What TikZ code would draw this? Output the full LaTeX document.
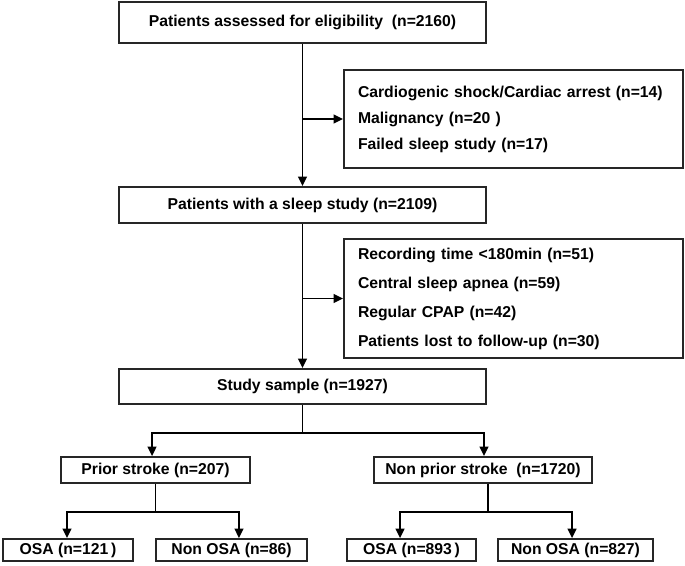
\documentclass[tikz,border=0pt]{standalone}
\usepackage{fontspec}
\setmainfont{Liberation Sans}
\usetikzlibrary{arrows.meta}
\begin{document}
\begin{tikzpicture}[x=0.75pt,y=-0.75pt,
  box/.style={draw=black!85,line width=1.4pt,inner sep=0pt,minimum height=#1,
     font=\fontsize{11.8}{14}\selectfont\bfseries},
  exbox/.style={draw=black!85,line width=1.4pt,inner xsep=10.5pt,inner ysep=0pt,
     minimum height=#1,text width=233.25pt,align=left},
  arr/.style={line width=1.3pt,-{Triangle[length=7pt,width=6.5pt]}},
  ln/.style={line width=1.3pt}]
\useasboundingbox (0,0) rectangle (685,565);
% main column
\node[box=30.75pt,minimum width=275.25pt] (b1) at (302.5,22.5) {Patients assessed for eligibility\ \ (n=2160)};
\node[box=27pt,minimum width=275.25pt] (b2) at (302.5,205) {Patients with a sleep study (n=2109)};
\node[box=26.25pt,minimum width=275.25pt] (b3) at (302.5,386.5) {Study sample (n=1927)};
% exclusion boxes
\node[exbox=73.5pt,font=\fontsize{11.8}{19.5}\selectfont\bfseries] (e1) at (513.5,119)
  {Cardiogenic shock/Cardiac arrest (n=14)\\Malignancy (n=20 )\\Failed sleep study (n=17)};
\node[exbox=89.25pt,font=\fontsize{11.8}{21.75}\selectfont\bfseries] (e2) at (513.5,298.5)
  {Recording time <180min (n=51)\\Central sleep apnea (n=59)\\Regular CPAP (n=42)\\Patients lost to follow-up (n=30)};
% groups
\node[box=19.5pt,minimum width=141.75pt] (p1) at (155.5,470) {Prior stroke (n=207)};
\node[box=19.5pt,minimum width=163.5pt] (p2) at (483,470) {Non prior stroke\ \ (n=1720)};
% subgroups
\node[box=16.5pt,minimum width=97.5pt] (o1) at (68,550) {OSA (n=121\,)};
\node[box=16.5pt,minimum width=113.25pt] (o2) at (231.5,550) {Non OSA (n=86)};
\node[box=16.5pt,minimum width=96.75pt] (o3) at (411.5,550) {OSA (n=893\,)};
\node[box=16.5pt,minimum width=116.25pt] (o4) at (575.5,550) {Non OSA (n=827)};
% connectors
\coordinate (t1) at (b1.south |- e1.west);
\coordinate (t2) at (b2.south |- e2.west);
\draw[arr] (b1.south) -- (b2.north);
\draw[arr] (t1) -- (e1.west);
\draw[arr] (b2.south) -- (b3.north);
\draw[arr] (t2) -- (e2.west);
\coordinate (s0) at (302.5,433);
\draw[ln] (b3.south) -- (s0);
\draw[arr] (s0) -| ([xshift=-2.6pt]p1.north);
\draw[arr] (s0) -| ([xshift=0.75pt]p2.north);
\coordinate (s1) at (155.5,512);
\draw[ln] (p1.south) -- (s1);
\draw[arr] (s1) -| ([xshift=-0.75pt]o1.north);
\draw[arr] (s1) -| ([xshift=5.6pt]o2.north);
\coordinate (s2) at (488,512);
\draw[ln] ([xshift=3.75pt]p2.south) -- (s2);
\draw[arr] (s2) -| ([xshift=-8.6pt]o3.north);
\draw[arr] (s2) -| ([xshift=-2.6pt]o4.north);
\end{tikzpicture}
\end{document}
